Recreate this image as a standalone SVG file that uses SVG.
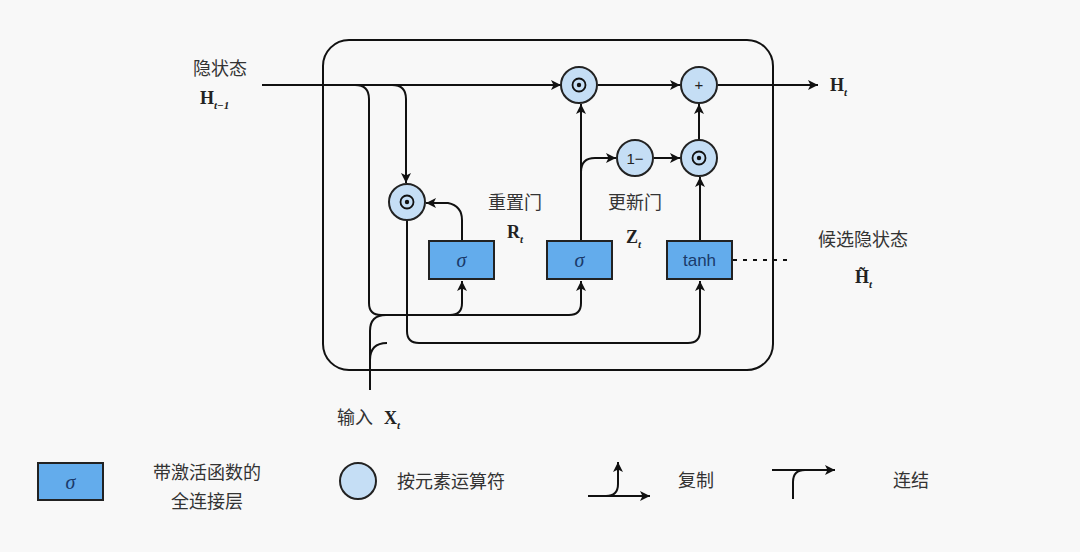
<svg xmlns="http://www.w3.org/2000/svg" width="1080" height="552" viewBox="0 0 1080 552">
<defs>
<marker id="ah" viewBox="0 0 10 10" refX="10" refY="5" markerWidth="10" markerHeight="10" markerUnits="userSpaceOnUse" orient="auto"><path d="M0,0 L10,5 L0,10 L2.5,5 z" fill="#111"/></marker>
<style>
.ln{fill:none;stroke:#111;stroke-width:2}
.ar{fill:none;stroke:#111;stroke-width:2;marker-end:url(#ah)}
.box{fill:#63acec;stroke:#222;stroke-width:2}
.cir{fill:#c5def5;stroke:#222;stroke-width:2}
.cn{font-family:"Noto Sans CJK SC","Noto Sans",sans-serif;font-size:18px;fill:#333}
.bm{font-family:"Liberation Serif",serif;font-weight:bold;font-size:18px;fill:#222}
.sub{font-family:"Liberation Serif",serif;font-style:italic;font-size:11px;fill:#222}
.sg{font-family:"Liberation Serif",serif;font-style:italic;font-size:20px;fill:#1a3a6a}
.op{font-family:"Liberation Sans",sans-serif;font-size:15px;fill:#222}
</style>
</defs>
<rect width="1080" height="552" fill="#f8f8f8"/>
<rect x="323" y="40" width="450" height="330" rx="26" fill="none" stroke="#111" stroke-width="2"/>
<g id="connectors">
<path class="ar" d="M262,85 H561"/>
<path class="ln" d="M355,85 Q369,85 369,99 V303 Q369,315 381,315 H450"/>
<path class="ar" d="M450,315 Q462,315 462,303 V281"/>
<path class="ar" d="M450,315 H569 Q581,315 581,303 V281"/>
<path class="ar" d="M392,85 Q406,85 406,99 V183"/>
<path class="ar" d="M462,241 V220 Q462,206 448,203 L426,203"/>
<path class="ar" d="M581,241 V104"/>
<path class="ar" d="M581,172 Q581,158 595,158 H616"/>
<path class="ar" d="M654,158 H680"/>
<path class="ar" d="M700,241 V177"/>
<path class="ar" d="M699,139 V104"/>
<path class="ar" d="M598,85 H680"/>
<path class="ar" d="M718,85 H818"/>
<path class="ln" d="M407,221 V331 Q407,343 419,343 H688"/>
<path class="ar" d="M688,343 Q700,343 700,331 V281"/>
<path class="ln" d="M370,390 V331 Q370,315 386,315"/>
<path class="ln" d="M370,360 Q370,343 387,343"/>
<path class="ln" d="M733,260 H792" stroke-dasharray="4,6"/>
</g>
<g id="sigma_r"><rect class="box" x="429" y="241" width="65" height="38"/><text class="sg" x="461.5" y="267" text-anchor="middle">σ</text></g>
<g id="sigma_z"><rect class="box" x="547" y="241" width="65" height="38"/><text class="sg" x="579.5" y="267" text-anchor="middle">σ</text></g>
<g id="tanh"><rect class="box" x="667" y="241" width="65" height="38"/><text x="699.5" y="266" text-anchor="middle" font-family="Liberation Sans,sans-serif" font-size="17" fill="#1a3a6a">tanh</text></g>
<g id="mul_r"><circle class="cir" cx="407" cy="202" r="18"/><circle cx="407" cy="202" r="6.5" fill="none" stroke="#111" stroke-width="1.8"/><circle cx="407" cy="202" r="2.2" fill="#111"/></g>
<g id="mul_top"><circle class="cir" cx="579" cy="85" r="18"/><circle cx="579" cy="85" r="6.5" fill="none" stroke="#111" stroke-width="1.8"/><circle cx="579" cy="85" r="2.2" fill="#111"/></g>
<g id="plus"><circle class="cir" cx="699" cy="85" r="18"/><text class="op" x="699" y="90" text-anchor="middle">+</text></g>
<g id="one_minus"><circle class="cir" cx="635" cy="158" r="18"/><text class="op" x="635" y="164" text-anchor="middle">1−</text></g>
<g id="mul_c"><circle class="cir" cx="699" cy="158" r="18"/><circle cx="699" cy="158" r="6.5" fill="none" stroke="#111" stroke-width="1.8"/><circle cx="699" cy="158" r="2.2" fill="#111"/></g>
<g id="labels">
<text class="cn" x="220" y="75" text-anchor="middle">隐状态</text>
<text class="bm" x="200" y="104">H<tspan class="sub" dy="5">t−1</tspan></text>
<text class="cn" x="515" y="209" text-anchor="middle">重置门</text>
<text class="bm" x="507" y="238">R<tspan class="sub" dy="5">t</tspan></text>
<text class="cn" x="635" y="209" text-anchor="middle">更新门</text>
<text class="bm" x="626" y="243">Z<tspan class="sub" dy="5">t</tspan></text>
<text class="cn" x="863" y="246" text-anchor="middle">候选隐状态</text>
<text class="bm" x="855" y="283">H̃<tspan class="sub" dy="5">t</tspan></text>
<text class="bm" x="830" y="91">H<tspan class="sub" dy="5">t</tspan></text>
<text class="cn" x="337" y="424">输入</text>
<text class="bm" x="384" y="424">X<tspan class="sub" dy="5">t</tspan></text>
</g>
<g id="legend">
<rect class="box" x="38" y="463" width="65" height="37"/><text class="sg" x="70.5" y="489" text-anchor="middle">σ</text>
<text class="cn" x="207" y="479" text-anchor="middle">带激活函数的</text>
<text class="cn" x="207" y="508" text-anchor="middle">全连接层</text>
<circle class="cir" cx="358" cy="481" r="18"/>
<text class="cn" x="397" y="488">按元素运算符</text>
<path class="ar" d="M588,496 H650"/>
<path class="ar" d="M606,496 Q618,496 618,484 V462"/>
<text class="cn" x="678" y="487">复制</text>
<path class="ar" d="M772,470 H835"/>
<path class="ln" d="M793,499 V482 Q793,470 805,470"/>
<text class="cn" x="893" y="487">连结</text>
</g>
</svg>
